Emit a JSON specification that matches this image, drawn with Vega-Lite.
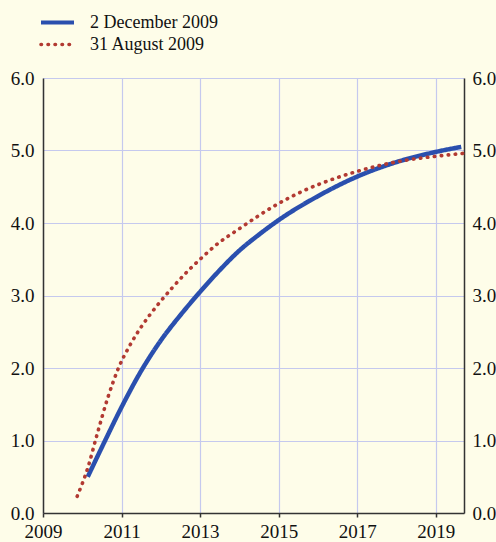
{
  "$schema": "https://vega.github.io/schema/vega-lite/v6.json",
  "width": 421,
  "height": 435,
  "autosize": {"type": "none"},
  "padding": {"left": 43, "top": 78, "right": 32, "bottom": 29},
  "background": "#fefde9",
  "config": {
    "view": {"stroke": null, "fill": "#fefde9"},
    "font": "Liberation Serif",
    "axis": {
      "labelFont": "Liberation Serif",
      "labelFontSize": 19,
      "labelColor": "#111111",
      "domainColor": "#333333",
      "domainWidth": 1.5,
      "gridColor": "#c5c9ee",
      "gridWidth": 1.2,
      "gridOpacity": 1,
      "title": null
    },
    "legend": {
      "labelFont": "Liberation Serif",
      "labelFontSize": 18,
      "labelColor": "#111111"
    }
  },
  "data": {
    "values": [
      {"series": "2 December 2009", "year": 2010.14, "value": 0.5},
      {"series": "2 December 2009", "year": 2010.6, "value": 1.02},
      {"series": "2 December 2009", "year": 2011.0, "value": 1.46},
      {"series": "2 December 2009", "year": 2011.5, "value": 1.96},
      {"series": "2 December 2009", "year": 2012.0, "value": 2.38},
      {"series": "2 December 2009", "year": 2012.5, "value": 2.73},
      {"series": "2 December 2009", "year": 2013.0, "value": 3.05},
      {"series": "2 December 2009", "year": 2013.5, "value": 3.35},
      {"series": "2 December 2009", "year": 2014.0, "value": 3.62},
      {"series": "2 December 2009", "year": 2014.5, "value": 3.84},
      {"series": "2 December 2009", "year": 2015.0, "value": 4.04},
      {"series": "2 December 2009", "year": 2016.0, "value": 4.37},
      {"series": "2 December 2009", "year": 2017.0, "value": 4.64},
      {"series": "2 December 2009", "year": 2018.0, "value": 4.84},
      {"series": "2 December 2009", "year": 2019.0, "value": 4.98},
      {"series": "2 December 2009", "year": 2019.65, "value": 5.05},
      {"series": "31 August 2009", "year": 2009.87, "value": 0.23},
      {"series": "31 August 2009", "year": 2010.15, "value": 0.64},
      {"series": "31 August 2009", "year": 2010.37, "value": 1.07},
      {"series": "31 August 2009", "year": 2010.65, "value": 1.59},
      {"series": "31 August 2009", "year": 2010.93, "value": 2.01},
      {"series": "31 August 2009", "year": 2011.21, "value": 2.31},
      {"series": "31 August 2009", "year": 2011.53, "value": 2.59},
      {"series": "31 August 2009", "year": 2011.89, "value": 2.85},
      {"series": "31 August 2009", "year": 2012.28, "value": 3.1},
      {"series": "31 August 2009", "year": 2012.71, "value": 3.35},
      {"series": "31 August 2009", "year": 2013.0, "value": 3.5},
      {"series": "31 August 2009", "year": 2013.46, "value": 3.72},
      {"series": "31 August 2009", "year": 2013.94, "value": 3.9},
      {"series": "31 August 2009", "year": 2014.97, "value": 4.26},
      {"series": "31 August 2009", "year": 2015.7, "value": 4.46},
      {"series": "31 August 2009", "year": 2016.46, "value": 4.62},
      {"series": "31 August 2009", "year": 2017.05, "value": 4.72},
      {"series": "31 August 2009", "year": 2018.07, "value": 4.85},
      {"series": "31 August 2009", "year": 2019.0, "value": 4.92},
      {"series": "31 August 2009", "year": 2019.69, "value": 4.96}
    ]
  },
  "encoding": {
    "x": {
      "field": "year",
      "type": "quantitative",
      "scale": {"domain": [2009, 2019.72], "nice": false, "zero": false},
      "axis": {
        "values": [2009, 2011, 2013, 2015, 2017, 2019],
        "format": "d",
        "labelFont": "Liberation Serif",
        "labelFontSize": 19,
        "grid": true,
        "ticks": true,
        "tickSize": 4,
        "tickColor": "#333333",
        "tickWidth": 1.5,
        "labelPadding": 5,
        "labelFlush": false
      }
    },
    "color": {
      "field": "series",
      "type": "nominal",
      "scale": {
        "domain": ["2 December 2009", "31 August 2009"],
        "range": ["#2a4fae", "#b23a32"]
      },
      "legend": {
        "title": null,
        "values": ["2 December 2009"],
        "orient": "none",
        "legendX": -4,
        "legendY": -74,
        "symbolType": "stroke",
        "symbolSize": 1089,
        "symbolStrokeWidth": 4,
        "labelOffset": 14
      }
    },
    "strokeDash": {
      "field": "series",
      "type": "nominal",
      "scale": {
        "domain": ["31 August 2009", "2 December 2009"],
        "range": [[0.5, 6.5], [1, 0]]
      },
      "legend": {
        "title": null,
        "values": ["31 August 2009"],
        "orient": "none",
        "legendX": -4,
        "legendY": -52,
        "symbolType": "stroke",
        "symbolSize": 1089,
        "symbolStrokeWidth": 3.6,
        "symbolStrokeColor": "#b23a32",
        "labelOffset": 14,
        "encode": {
          "symbols": {"update": {"strokeCap": {"value": "round"}}}
        }
      }
    }
  },
  "layer": [
    {
      "transform": [{"filter": "datum.series == '2 December 2009'"}],
      "mark": {"type": "line", "strokeWidth": 4.5, "interpolate": "monotone"},
      "encoding": {
        "y": {
          "field": "value",
          "type": "quantitative",
          "scale": {"domain": [0, 6], "nice": false},
          "axis": {
            "orient": "left",
            "values": [0, 1, 2, 3, 4, 5, 6],
            "format": ".1f",
            "labelFont": "Liberation Serif",
            "labelFontSize": 19,
            "grid": true,
            "ticks": false,
            "labelPadding": 9
          }
        }
      }
    },
    {
      "transform": [{"filter": "datum.series == '31 August 2009'"}],
      "mark": {"type": "line", "strokeWidth": 3.6, "strokeCap": "round", "interpolate": "monotone"},
      "encoding": {
        "y": {
          "field": "value",
          "type": "quantitative",
          "scale": {"domain": [0, 6], "nice": false},
          "axis": {
            "orient": "right",
            "values": [0, 1, 2, 3, 4, 5, 6],
            "format": ".1f",
            "labelFont": "Liberation Serif",
            "labelFontSize": 19,
            "grid": false,
            "ticks": false,
            "labelPadding": 8
          }
        }
      }
    }
  ],
  "resolve": {"axis": {"y": "independent"}}
}
